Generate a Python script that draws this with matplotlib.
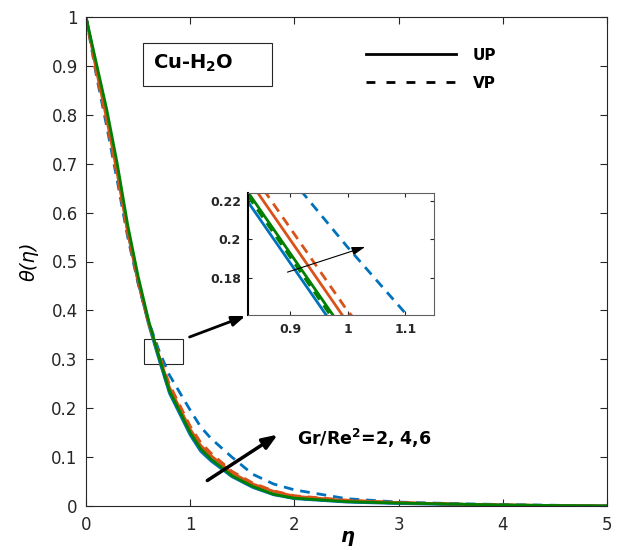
import matplotlib
matplotlib.use("Agg")
import matplotlib.pyplot as plt
from matplotlib.lines import Line2D
from matplotlib.patches import Rectangle

plt.rcParams["font.family"] = ["DejaVu Sans"]
plt.rcParams["mathtext.fontset"] = "custom"
plt.rcParams["mathtext.rm"] = "DejaVu Sans:bold"
plt.rcParams["mathtext.bf"] = "DejaVu Sans:bold"

# dados
eta = [0, 0.1, 0.2, 0.3, 0.4, 0.5, 0.6, 0.7, 0.8, 0.9, 1.0, 1.1, 1.2,
       1.4, 1.6, 1.8, 2.0, 2.5, 3.0, 3.5, 4.0, 5.0]

up_gr2 = [1.0, 0.897, 0.80, 0.688, 0.562, 0.458, 0.372, 0.300, 0.231, 0.188, 0.145,
          0.112, 0.092, 0.060, 0.038, 0.023, 0.015, 0.008, 0.005, 0.003, 0.0015, 0]
up_gr4 = [1.0, 0.89, 0.79, 0.68, 0.56, 0.46, 0.375, 0.308, 0.243, 0.200, 0.157,
          0.124, 0.103, 0.068, 0.045, 0.030, 0.020, 0.011, 0.007, 0.004, 0.002, 0]
up_gr6 = [1.0, 0.905, 0.81, 0.70, 0.575, 0.47, 0.38, 0.305, 0.236, 0.193, 0.150,
          0.117, 0.096, 0.062, 0.040, 0.024, 0.016, 0.009, 0.006, 0.004, 0.002, 0]

vp_gr2 = [1.0, 0.88, 0.775, 0.665, 0.55, 0.455, 0.378, 0.318, 0.268, 0.232, 0.196,
          0.162, 0.138, 0.10, 0.065, 0.045, 0.033, 0.015, 0.008, 0.005, 0.003, 0]
vp_gr4 = [1.0, 0.885, 0.785, 0.675, 0.556, 0.458, 0.375, 0.31, 0.249, 0.206, 0.163,
          0.130, 0.108, 0.071, 0.047, 0.031, 0.021, 0.012, 0.007, 0.004, 0.002, 0]
vp_gr6 = [1.0, 0.895, 0.795, 0.685, 0.565, 0.462, 0.376, 0.303, 0.234, 0.191, 0.148,
          0.115, 0.094, 0.061, 0.039, 0.024, 0.016, 0.009, 0.006, 0.004, 0.002, 0]

cores = ["#0072BD", "#D95319", "#008000"]
up = [up_gr2, up_gr4, up_gr6]
vp = [vp_gr2, vp_gr4, vp_gr6]

x_ticks = [0, 1, 2, 3, 4, 5]
y_ticks = [0, 0.1, 0.2, 0.3, 0.4, 0.5, 0.6, 0.7, 0.8, 0.9, 1]
y_labels = ["0", "0.1", "0.2", "0.3", "0.4", "0.5", "0.6", "0.7", "0.8", "0.9", "1"]
zoom_x_ticks = [0.9, 1.0, 1.1]
zoom_x_labels = ["0.9", "1", "1.1"]
zoom_y_ticks = [0.18, 0.2, 0.22]
zoom_y_labels = ["0.18", "0.2", "0.22"]

eixo_cor = "#262626"


def desenhar(ax, lw):
    for y, c in zip(vp, cores):
        ax.plot(eta, y, color=c, lw=lw, dashes=(3.5, 2.5))
    for y, c in zip(up, cores):
        ax.plot(eta, y, color=c, lw=lw)


fig = plt.figure(figsize=(6.23, 5.5), dpi=100)
ax = fig.add_axes([86 / 623, 44 / 550, 521 / 623, 489 / 550])

desenhar(ax, 2)

ax.set_xlim(0, 5)
ax.set_ylim(0, 1)
ax.set_xticks(x_ticks)
ax.set_yticks(y_ticks)
ax.set_yticklabels(y_labels)
ax.tick_params(direction="in", top=True, right=True, labelsize=12, length=5,
               color=eixo_cor, labelcolor=eixo_cor)
ax.tick_params(axis="y", pad=6)
ax.tick_params(axis="x", pad=7)
for s in ax.spines.values():
    s.set_color(eixo_cor)
ax.set_xlabel("η", fontsize=14, fontweight="bold", fontstyle="italic", labelpad=-5)
ax.set_ylabel("θ(η)", fontsize=14, fontstyle="italic", labelpad=9)

# legenda
handles = [Line2D([], [], color="black", lw=2),
           Line2D([], [], color="black", lw=2, dashes=(3.2, 4))]
ax.legend(handles, ["UP", "VP"], loc="upper left", bbox_to_anchor=(0.537, 0.937),
          frameon=False, borderpad=0, borderaxespad=0, handlelength=5.9,
          handletextpad=1.1, labelspacing=0.85,
          prop={"weight": "bold", "size": 11})

# caixa Cu-H2O
ax.add_patch(Rectangle((0.1094, 0.8589), 0.2476, 0.0879, transform=ax.transAxes,
                       fill=False, edgecolor=eixo_cor, lw=0.8))
ax.text(0.1286, 0.905, r"Cu-H$_\mathbf{2}$O", transform=ax.transAxes,
        fontsize=14, fontweight="bold", va="center", ha="left")

# retangulo de zoom e setas
ax.add_patch(Rectangle((0.557, 0.29), 0.373, 0.051, fill=False,
                       edgecolor=eixo_cor, lw=0.8))
ax.annotate("", xy=(1.555, 0.3906), xytext=(0.969, 0.3436),
            arrowprops=dict(arrowstyle="-|>,head_length=0.8,head_width=0.3",
                            color="black", lw=2))
ax.annotate("", xy=(1.862, 0.149), xytext=(1.142, 0.049),
            arrowprops=dict(arrowstyle="-|>,head_length=0.9,head_width=0.35",
                            color="black", lw=2.5))
ax.text(2.025, 0.139, r"Gr/Re$^\mathbf{2}$=2, 4,6", fontsize=12.5,
        fontweight="bold", va="center", ha="left")

# grafico ampliado
axi = fig.add_axes([248 / 623, (550 - 315) / 550, 186 / 623, 122 / 550])
desenhar(axi, 2)
axi.set_xlim(0.827, 1.15)
axi.set_ylim(0.161, 0.224)
axi.set_xticks(zoom_x_ticks)
axi.set_xticklabels(zoom_x_labels)
axi.set_yticks(zoom_y_ticks)
axi.set_yticklabels(zoom_y_labels)
axi.tick_params(direction="in", top=True, right=True, labelsize=9, length=3,
                color=eixo_cor, labelcolor=eixo_cor)
axi.tick_params(axis="y", pad=5)
axi.tick_params(axis="x", pad=6)
for lab in axi.get_xticklabels() + axi.get_yticklabels():
    lab.set_fontweight("bold")
for s in axi.spines.values():
    s.set_color("#606060")
axi.spines["left"].set_color("black")
axi.spines["left"].set_linewidth(1.5)
axi.annotate("", xy=(1.035, 0.1966), xytext=(0.891, 0.1827),
             arrowprops=dict(arrowstyle="-|>,head_length=0.8,head_width=0.25",
                             color="black", lw=0.8))

fig.savefig("out.png", dpi=100)
